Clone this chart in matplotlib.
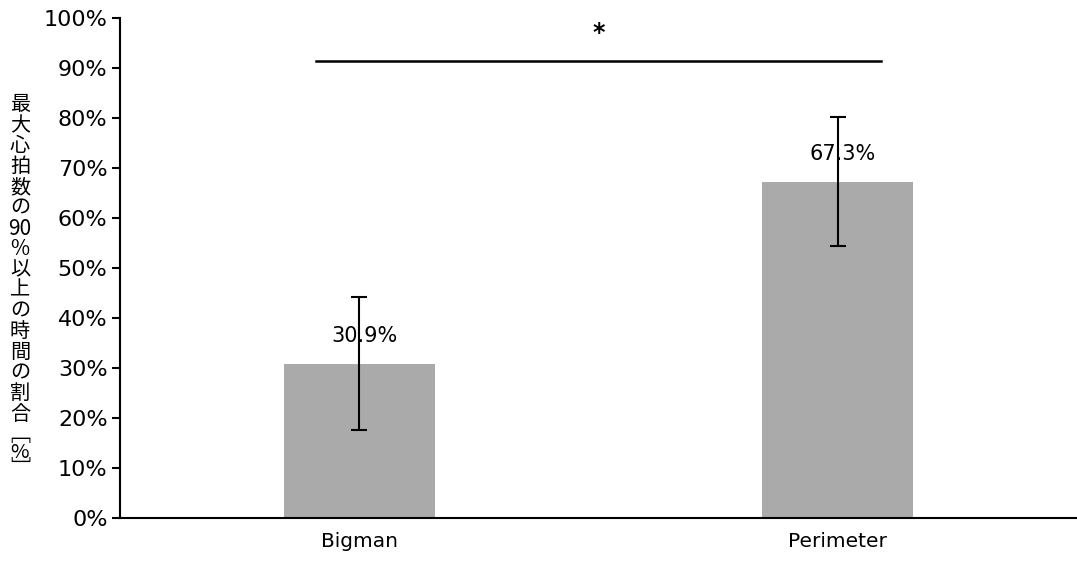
import matplotlib
matplotlib.use("Agg")
import matplotlib.pyplot as plt
import numpy as np

categories = ["Bigman", "Perimeter"]
values = [30.9, 67.3]
errors = [13.3, 12.9]
value_labels = ["30.9%", "67.3%"]
yticks = [0, 10, 20, 30, 40, 50, 60, 70, 80, 90, 100]
ytick_labels = [f"{t}%" for t in yticks]
ylabel_chars = ["最", "大", "心", "拍", "数", "の", "90", "%", "以", "上",
                "の", "時", "間", "の", "割", "合"]
ylabel_unit = "﹇\n%\n﹈"
sig_mark = "*"

latin = "DejaVu Sans"
cjk = ["Noto Sans CJK JP", "DejaVu Sans"]

fig = plt.figure(figsize=(10.77, 5.62), dpi=100)
W, H = 1077, 562
ax = fig.add_axes([120 / W, 1 - 518 / H, 957 / W, 500 / H])

x = np.arange(len(categories))
ax.bar(x, values, width=0.315, color="#aaaaaa", zorder=1)
ax.errorbar(x, values, yerr=errors, fmt="none", ecolor="black",
            elinewidth=1.5, capsize=6, capthick=1.5, zorder=3)
for xi, v, lab in zip(x, values, value_labels):
    ax.annotate(lab, (xi, v), xytext=(5, 27), textcoords="offset pixels",
                ha="center", va="center", fontsize=15, family=latin, zorder=2)

ax.set_xlim(-0.5, 1.5)
ax.set_ylim(0, 100)
ax.set_yticks(yticks)
ax.set_yticklabels(ytick_labels, fontsize=16, family=latin)
ax.set_xticks(x)
ax.set_xticklabels(categories, fontsize=14.5, family=latin)
ax.tick_params(axis="x", length=0, pad=10)
ax.tick_params(axis="y", length=6, width=1.5, pad=3)
for s in ["top", "right"]:
    ax.spines[s].set_visible(False)
ax.spines["left"].set_linewidth(1.5)
ax.spines["bottom"].set_linewidth(1.5)

# significance bar
ax.plot([-0.09, 1.09], [91.4, 91.4], color="black", lw=1.8, clip_on=False)
ax.text(0.5, 97.0, sig_mark, ha="center", va="center", fontsize=17,
        family=latin, fontweight="bold")

# vertical Japanese y-label
ys = [105 + i * 20.6 for i in range(16)]
for ch, yp in zip(ylabel_chars, ys):
    size = 15 if ch in ("90", "%") else 14.5
    fig.text(20 / W, 1 - yp / H, ch, ha="center", va="center",
             fontsize=size, family=cjk)
fig.text(20 / W, 1 - 452 / H, ylabel_unit, ha="center", va="center",
         fontsize=14.5, family=cjk, linespacing=0.74)

fig.savefig("out.png", dpi=100)
